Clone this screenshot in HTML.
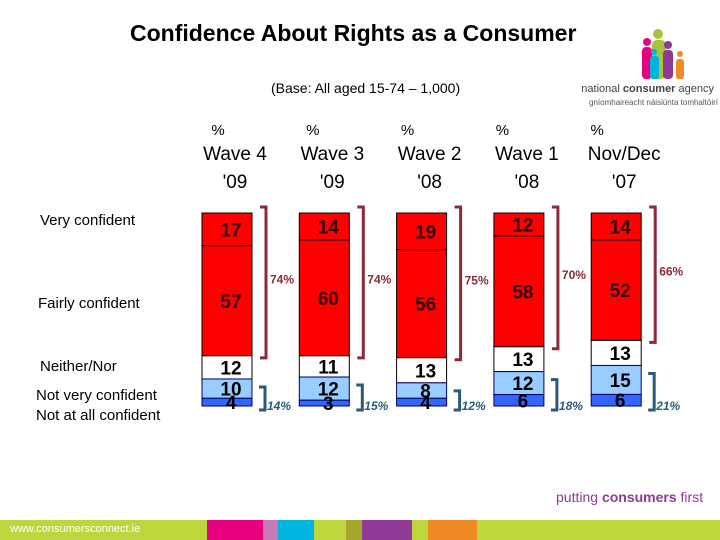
<!DOCTYPE html>
<html><head><meta charset="utf-8"><style>
body{margin:0;width:720px;height:540px;background:#fff;font-family:"Liberation Sans",sans-serif;overflow:hidden;position:relative}
.a{position:absolute;white-space:nowrap}
</style></head><body>
<div class="a" style="left:130px;top:20px;font-size:23px;font-weight:bold;color:#000">Confidence About Rights as a Consumer</div>
<div class="a" style="left:271px;top:80px;font-size:14px">(Base: All aged 15-74 – 1,000)</div>
<svg class="a" style="left:540px;top:25px" width="180" height="85">
<circle cx="107" cy="17" r="4" fill="#e6007e"/><rect x="102" y="22" width="10" height="32" rx="4" fill="#e6007e"/>
<circle cx="118" cy="9" r="5" fill="#a8c43a"/><rect x="112" y="15" width="14" height="39" rx="5" fill="#a8c43a"/>
<circle cx="114" cy="27" r="3" fill="#00b4e0"/><rect x="110" y="31" width="9" height="23" rx="3" fill="#00b4e0"/>
<circle cx="128" cy="20" r="4" fill="#8e3a96"/><rect x="123" y="25" width="10" height="29" rx="4" fill="#8e3a96"/>
<circle cx="140" cy="29" r="3" fill="#f08a24"/><rect x="136" y="34" width="8" height="20" rx="3" fill="#f08a24"/>
<text x="174" y="67" font-size="11" text-anchor="end" fill="#444" font-family="Liberation Sans">national <tspan font-weight="bold">consumer</tspan> agency</text>
<text x="178" y="80" font-size="8" text-anchor="end" fill="#555" font-family="Liberation Sans">gníomhaireacht náisiúnta tomhaltóirí</text>
</svg>
<div class="a" style="left:40px;top:212px;font-size:15px">Very confident</div>
<div class="a" style="left:38px;top:295px;font-size:15px">Fairly confident</div>
<div class="a" style="left:40px;top:358px;font-size:15px">Neither/Nor</div>
<div class="a" style="left:36px;top:387px;font-size:15px">Not very confident</div>
<div class="a" style="left:36px;top:407px;font-size:15px">Not at all confident</div>
<svg id="chart" class="a" style="left:0;top:0" width="720" height="520"></svg>
<div class="a" style="left:556px;top:489px;font-size:14px;color:#8e3a96">putting <b>consumers</b> first</div>
<div class="a" style="left:0;top:520px;width:720px;height:20px;background:#bcd63c">
<div class="a" style="left:10px;top:3px;font-size:11px;color:#fff">www.consumersconnect.ie</div>
<div class="a" style="left:207px;top:0;width:56px;height:20px;background:#e6007e"></div>
<div class="a" style="left:263px;top:0;width:15px;height:20px;background:#c77bb6"></div>
<div class="a" style="left:278px;top:0;width:36px;height:20px;background:#00b4e0"></div>
<div class="a" style="left:346px;top:0;width:16px;height:20px;background:#a4a82a"></div>
<div class="a" style="left:362px;top:0;width:50px;height:20px;background:#8e3a96"></div>
<div class="a" style="left:428px;top:0;width:49px;height:20px;background:#f08a24"></div>
</div>
<script>
const waves=["Wave 4","Wave 3","Wave 2","Wave 1","Nov/Dec"];
const years=["'09","'09","'08","'08","'07"];
const veryConfident=[17,14,19,12,14];
const fairlyConfident=[57,60,56,58,52];
const neither=[12,11,13,13,13];
const notVery=[10,12,8,12,15];
const notAtAll=[4,3,4,6,6];
const confidentTotals=["74%","74%","75%","70%","66%"];
const notConfidentTotals=["14%","15%","12%","18%","21%"];
const NS="http://www.w3.org/2000/svg";
const svg=document.getElementById('chart');
const x0=202,step=97.3,bw=50,yTop=213,yBottom=406;
function xPos(i){return x0+i*step;}
function mk(tag,at){const e=document.createElementNS(NS,tag);for(const k in at)e.setAttribute(k,at[k]);svg.appendChild(e);return e;}
function txt(x,y,s,at){const t=mk('text',Object.assign({x:x,y:y,'font-family':'Liberation Sans'},at));t.textContent=s;return t;}
const series=[veryConfident,fairlyConfident,neither,notVery,notAtAll];
const fills=["#ff0000","#ff0000","#ffffff","#99ccff","#3366ff"];
const names=["very-confident","fairly-confident","neither","not-very-confident","not-at-all-confident"];
waves.forEach((w,i)=>{
 const x=xPos(i),cx=x+bw/2,hx=cx+8;
 let t=txt(cx-9-i*2.5,135,"%",{'font-size':15,'text-anchor':'middle'});
 
 t=txt(hx,160,w,{'font-size':19,'text-anchor':'middle'});
 
 t=txt(hx,188,years[i],{'font-size':19,'text-anchor':'middle'});
 
 let sum=0;series.forEach(s=>sum+=s[i]);
 const sc=(yBottom-yTop)/sum;let y=yTop;
 series.forEach((s,k)=>{
  const h=s[i]*sc;
  const r=mk('rect',{x:x,y:y,width:bw,height:h,fill:fills[k],stroke:k>=3?'#000066':'#000','stroke-width':1});
  
  const lt=txt(cx+4,y+h/2+7,String(s[i]),{'font-size':19,'font-weight':'bold','text-anchor':'middle',fill:k<2?'#330000':'#000'});
  
  y+=h;
 });
 const redEnd=yTop+(veryConfident[i]+fairlyConfident[i])*sc;
 const bx=x+bw+14;
 const rb=mk('path',{d:`M${bx-6} ${yTop-6}H${bx}V${redEnd+2}H${bx-6}`,fill:'none',stroke:'#8b2a3a','stroke-width':3});
 
 t=txt(bx+4,(yTop+redEnd)/2-1,confidentTotals[i],{'font-size':12,'font-weight':'bold',fill:'#8b2a3a'});
 
 const bt=yTop+(veryConfident[i]+fairlyConfident[i]+neither[i])*sc+8;
 const bb=mk('path',{d:`M${bx-7} ${bt}H${bx-1}V${yBottom+4}H${bx-7}`,fill:'none',stroke:'#2a5a78','stroke-width':3});
 
 t=txt(bx+1,yBottom+4,notConfidentTotals[i],{'font-size':12,'font-weight':'bold','font-style':'italic',fill:'#2a5a78'});
 
});
</script>
</body></html>
